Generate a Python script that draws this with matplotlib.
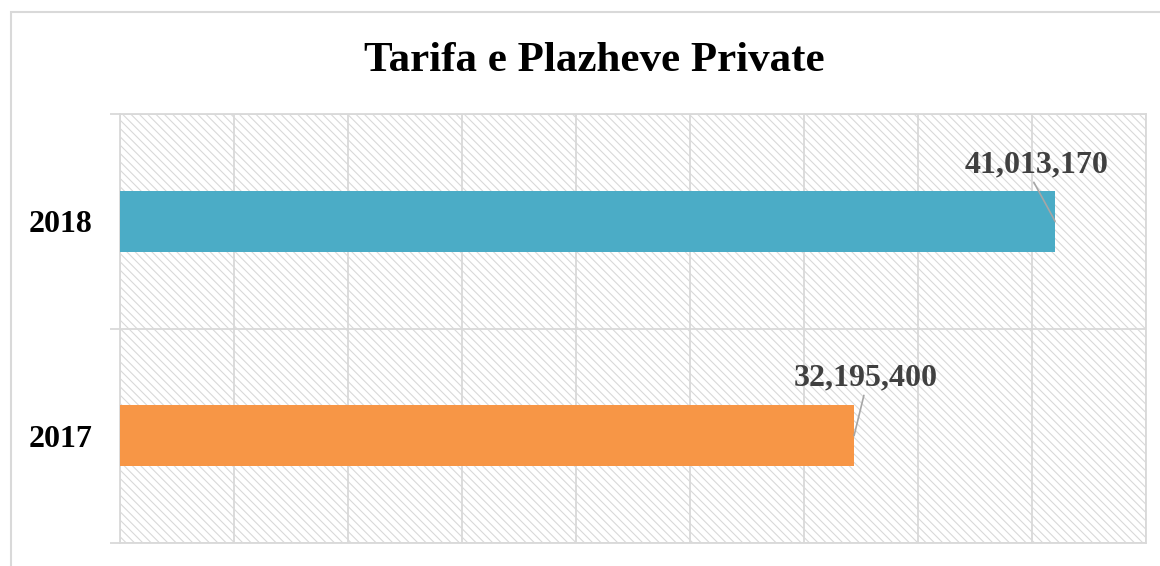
import matplotlib.pyplot as plt
from matplotlib.patches import Rectangle
from matplotlib.ticker import MultipleLocator, FixedLocator

# data
years = ["2017", "2018"]
values = [32195400, 41013170]
bar_colors = ["#F79646", "#4BACC6"]
value_labels = ["32,195,400", "41,013,170"]
label_offsets = [(8.6, 41.5), (-13.3, 40.5)]   # points, from bar end
leader_relpos = [(0.49, 0.0), (0.47, 0.0)]

grid_col = "#d9d9d9"
serif = ["Liberation Serif", "DejaVu Serif"]

fig = plt.figure(figsize=(11.6, 5.66), dpi=100)
ax = fig.add_axes([120 / 1160, 1 - 543 / 566, (1146 - 120) / 1160, (543 - 114) / 566])

# outer chart frame (cropped on right and bottom)
fig.patches.append(Rectangle((11 / 1160, -0.1), 1.2, 1 - 12 / 566 + 0.1,
                             transform=fig.transFigure, fill=False,
                             edgecolor=grid_col, lw=1.5))

# hatched plot area
plt.rcParams["hatch.linewidth"] = 0.8
ax.add_patch(Rectangle((0, 0), 1, 1, transform=ax.transAxes, facecolor="white",
                       edgecolor=grid_col, hatch="\\\\\\\\", lw=0, zorder=0))

ypos = list(range(len(years)))
ax.barh(ypos, values, height=0.285, color=bar_colors, zorder=3)

ax.set_xlim(0, 45_000_000)
ax.set_ylim(-0.5, len(years) - 0.5)

# x gridlines every 5M, no labels
ax.xaxis.set_major_locator(MultipleLocator(5_000_000))
ax.tick_params(axis="x", length=0, labelbottom=False)
ax.grid(axis="x", color=grid_col, lw=1.3, zorder=1)

# category boundaries as major ticks, names as minor ticks
ax.yaxis.set_major_locator(FixedLocator([y - 0.5 for y in range(len(years) + 1)]))
ax.yaxis.set_minor_locator(FixedLocator(ypos))
ax.set_yticklabels([], minor=False)
ax.set_yticklabels(years, minor=True, family=serif, fontweight="bold", fontsize=23)
ax.tick_params(axis="y", which="major", length=7.2, width=1.3, color=grid_col)
ax.tick_params(axis="y", which="minor", length=0, pad=19.5)
ax.grid(axis="y", which="major", color=grid_col, lw=1.3, zorder=1)

for sp in ax.spines.values():
    sp.set_color(grid_col)
    sp.set_linewidth(1.3)

for y, v, txt, off, rp in zip(ypos, values, value_labels, label_offsets, leader_relpos):
    ax.annotate(txt, xy=(v, y), xytext=off, textcoords="offset points",
                ha="center", va="center", family=serif, fontweight="bold",
                fontsize=23, color="#404040", zorder=5,
                arrowprops=dict(arrowstyle="-", color="#a6a6a6", lw=1.2,
                                relpos=rp, shrinkA=0, shrinkB=0))

fig.text(594 / 1160, 1 - 61 / 566, "Tarifa e Plazheve Private", ha="center", va="center",
         family=serif, fontweight="bold", fontsize=31, color="black")

fig.savefig("out.png", dpi=100)
